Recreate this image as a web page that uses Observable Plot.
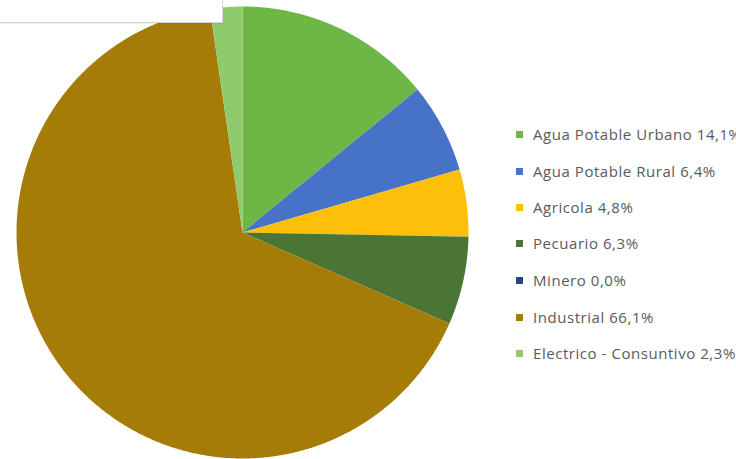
<!DOCTYPE html>
<html>
<head>
<meta charset="utf-8">
<script src="https://cdn.jsdelivr.net/npm/d3@7"></script>
<script src="https://cdn.jsdelivr.net/npm/@observablehq/plot@0.6"></script>
<style>
  html, body { margin: 0; padding: 0; background: #fff; overflow: hidden; }
  #wrap { position: relative; width: 736px; height: 459px; overflow: hidden; }
  #box { position: absolute; left: -2px; top: -2px; width: 223px; height: 23px; background: #fff; border: 1px solid #d6d6d6; box-shadow: 0 1px 1px rgba(0,0,0,0.05); }
  #legend { position: absolute; left: 516px; top: 0; font-family: "Open Sans", sans-serif; font-size: 15px; letter-spacing: 0.55px; color: #5a5a5a; white-space: nowrap; }
  .item { position: absolute; left: 0; display: flex; align-items: center; height: 20px; }
  .sw { width: 7px; height: 7px; margin-right: 10px; }
</style>
</head>
<body>
<div id="wrap">
  <div id="chart"></div>
  <div id="box"></div>
  <div id="legend"></div>
</div>
<script>
const categories = ["Agua Potable Urbano", "Agua Potable Rural", "Agricola", "Pecuario", "Minero", "Industrial", "Electrico - Consuntivo"];
const values = [14.1, 6.4, 4.8, 6.3, 0.0, 66.1, 2.3];
const valueLabels = ["14,1%", "6,4%", "4,8%", "6,3%", "0,0%", "66,1%", "2,3%"];
const colors = ["#6eb646", "#4673c8", "#fdbf0a", "#4a7535", "#274579", "#a67c08", "#8fcb6c"];

// Slice geometry derived from the data via d3.pie
const arcs = d3.pie().sort(null).value(d => d.value)(categories.map((name, i) => ({name, value: values[i]})));
const points = [];
for (const a of arcs) {
  if (a.endAngle - a.startAngle <= 0) continue;
  const name = a.data.name;
  points.push({name, x: 0, y: 0});
  const n = Math.max(2, Math.ceil((a.endAngle - a.startAngle) / 0.005));
  for (let k = 0; k <= n; k++) {
    const t = a.startAngle + (a.endAngle - a.startAngle) * k / n;
    points.push({name, x: Math.sin(t), y: Math.cos(t)});
  }
  points.push({name, x: 0, y: 0});
}

const chart = Plot.plot({
  width: 736,
  height: 459,
  marginLeft: 16,
  marginRight: 268,
  marginTop: 6,
  marginBottom: 1,
  x: {domain: [-1, 1], axis: null},
  y: {domain: [-1, 1], axis: null},
  color: {type: "ordinal", domain: categories, range: colors},
  marks: [
    Plot.line(points, {x: "x", y: "y", z: "name", fill: "name", stroke: "none", curve: "linear"})
  ]
});
document.getElementById("chart").appendChild(chart);

const legend = document.getElementById("legend");
const tops = [134, 171, 207, 243, 280, 317, 353];
categories.forEach((name, i) => {
  const it = document.createElement("div");
  it.className = "item";
  it.style.top = (tops[i] - 10) + "px";
  const sw = document.createElement("span");
  sw.className = "sw";
  sw.style.background = colors[i];
  const tx = document.createElement("span");
  tx.textContent = name + " " + valueLabels[i];
  it.appendChild(sw);
  it.appendChild(tx);
  legend.appendChild(it);
});
</script>
</body>
</html>
